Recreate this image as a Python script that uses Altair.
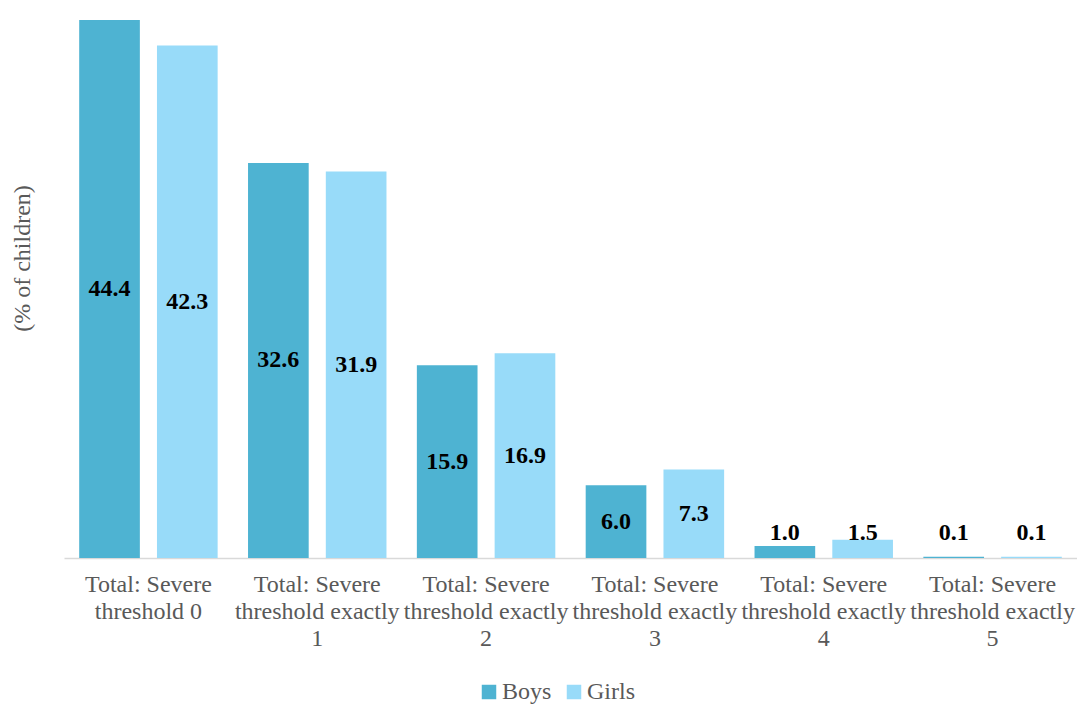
import altair as alt
import pandas as pd

# Share of children by number of severe deprivations, by sex
categories = [
    "Total: Severe\nthreshold 0",
    "Total: Severe\nthreshold exactly\n1",
    "Total: Severe\nthreshold exactly\n2",
    "Total: Severe\nthreshold exactly\n3",
    "Total: Severe\nthreshold exactly\n4",
    "Total: Severe\nthreshold exactly\n5",
]
boys = [44.4, 32.6, 15.9, 6.0, 1.0, 0.1]
girls = [42.3, 31.9, 16.9, 7.3, 1.5, 0.1]
groups = ["Boys", "Girls"]
colors = ["#4eb3d2", "#98dbf9"]

rows = []
for cat, b, g in zip(categories, boys, girls):
    rows.append({"cat": cat, "sex": "Boys", "value": b})
    rows.append({"cat": cat, "sex": "Girls", "value": g})
df = pd.DataFrame(rows)
# labels sit mid-bar, but never lower than a minimum height above the baseline
df["label_y"] = df["value"].apply(lambda v: max(v / 2, 2.07))
df["label"] = df["value"].map(lambda v: f"{v:.1f}")

FONT = "Liberation Serif, Times New Roman, serif"
GREY = "#595959"

x_enc = alt.X(
    "cat:N",
    sort=categories,
    scale=alt.Scale(paddingInner=0.18, paddingOuter=0.09),
    axis=alt.Axis(
        title=None,
        labelAngle=0,
        labelExpr="split(datum.label, '\\n')",
        labelFont=FONT,
        labelFontSize=24,
        labelColor=GREY,
        labelLineHeight=27,
        labelPadding=14,
        labelLimit=300,
        labelOverlap=False,
        labelBound=False,
        ticks=False,
        grid=False,
        domainColor="#d9d9d9",
        domainWidth=1.5,
    ),
)
xoff = alt.XOffset("sex:N", sort=groups, scale=alt.Scale(paddingInner=0.22, paddingOuter=0))

bars = alt.Chart(df).mark_bar().encode(
    x=x_enc,
    xOffset=xoff,
    y=alt.Y(
        "value:Q",
        scale=alt.Scale(domain=[0, 44.4], nice=False, zero=True),
        axis=alt.Axis(
            title="(% of children)",
            labels=False,
            ticks=False,
            domain=False,
            grid=False,
            titleFont=FONT,
            titleFontSize=24,
            titleFontWeight="normal",
            titleColor=GREY,
            titleAngle=-90,
            titleAlign="center",
            titleBaseline="middle",
            titleX=-42,
            titleY=238,
        ),
    ),
    color=alt.Color(
        "sex:N",
        sort=groups,
        scale=alt.Scale(domain=groups, range=colors),
        legend=alt.Legend(
            title=None,
            orient="none",
            direction="horizontal",
            legendX=413,
            legendY=660,
            symbolType="square",
            symbolSize=210,
            symbolStrokeWidth=0,
            symbolOpacity=1,
            labelFont=FONT,
            labelFontSize=24,
            labelColor=GREY,
            labelOffset=1,
            columnPadding=10,
        ),
    ),
)

labels = alt.Chart(df).mark_text(
    font=FONT, fontSize=24, fontWeight="bold", color="black", baseline="middle"
).encode(
    x=alt.X("cat:N", sort=categories),
    xOffset=alt.XOffset("sex:N", sort=groups),
    y=alt.Y("label_y:Q"),
    text="label:N",
)

chart = (
    alt.layer(bars, labels)
    .properties(
        width=1013,
        height=538,
        background="white",
        autosize=alt.AutoSizeParams(type="none"),
        padding={"left": 64, "top": 20, "right": 0, "bottom": 147},
    )
    .configure_view(strokeWidth=0, stroke="transparent")
    .configure_axis(grid=False)
)

chart.save("out.html", embed_options={"renderer": "svg", "actions": False})
